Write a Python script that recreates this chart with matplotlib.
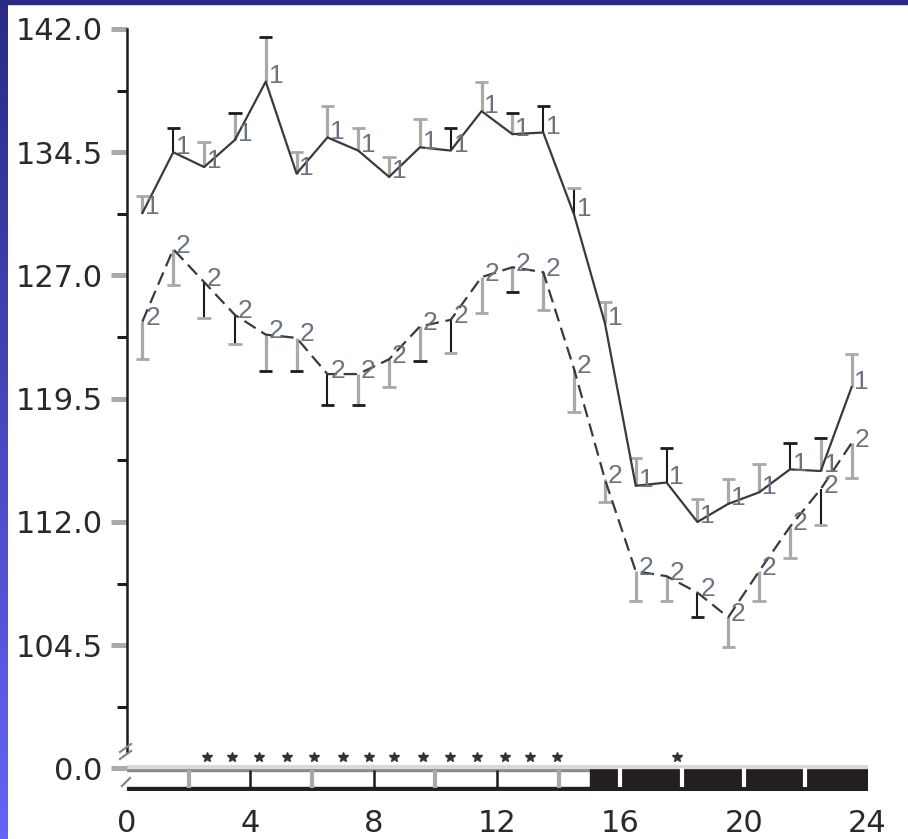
import numpy as np
import matplotlib
matplotlib.use('Agg')
import matplotlib.pyplot as plt
from matplotlib.patches import Rectangle
from matplotlib.lines import Line2D
from matplotlib.colors import LinearSegmentedColormap

# hourly bins (centre of each hour)
hours = np.arange(24) + 0.5

# series 1 (solid line, error bars upward)
s1 = [130.8, 134.5, 133.6, 135.25, 138.8, 133.2, 135.4, 134.6, 133.0, 134.8, 134.6, 137.0,
      135.6, 135.7, 130.7, 124.1, 114.2, 114.4, 112.0, 113.1, 113.8, 115.2, 115.1, 120.2]
err1 = [1.05, 1.5, 1.5, 1.65, 2.7, 1.3, 1.9, 1.4, 1.2, 1.7, 1.4, 1.8,
        1.3, 1.6, 1.6, 1.3, 1.7, 2.1, 1.4, 1.5, 1.7, 1.6, 2.0, 2.0]

# series 2 (dashed line, error bars downward)
s2 = [124.2, 128.6, 126.6, 124.6, 123.4, 123.2, 121.0, 121.0, 121.9, 123.9, 124.3, 126.9,
      127.5, 127.2, 121.3, 114.6, 109.0, 108.7, 107.7, 106.2, 109.0, 111.7, 114.0, 116.8]
err2 = [2.3, 2.2, 2.2, 1.8, 2.2, 2.0, 1.9, 1.9, 1.7, 2.1, 2.0, 2.2,
        1.5, 2.3, 2.6, 1.4, 1.8, 1.5, 1.5, 1.8, 1.8, 1.9, 2.2, 2.1]

# error bar shading as printed (g = grey, k = black)
c1_line = 'gkggggggggkggkkggkgggkgg'
c1_cap = 'gkgkkgggggkgkkgggkgggkkg'
c2_line = 'ggkkggkgggkgggggggkgggkg'
c2_cap = 'ggggkkkkgkggkgggggkggggg'

# y ticks
y_major = [104.5, 112.0, 119.5, 127.0, 134.5, 142.0]
y_minor = [100.75, 108.25, 115.75, 123.25, 130.75, 138.25]
x_ticks = [0, 4, 8, 12, 16, 20, 24]

# light / dark bar
light_period = (0, 15)
dark_period = (15, 24)
light_dividers = [2, 4, 6, 8, 10, 12, 14]
dark_dividers = [16, 18, 20, 22]

# significance stars
star_hours = [2.59, 3.41, 4.28, 5.19, 6.07, 7.0, 7.85, 8.66, 9.6, 10.48, 11.36, 12.26, 13.07, 13.95, 17.84]

GREY = '#a9a9a9'
BLACK = '#1c1c1c'
cmap_c = {'g': GREY, 'k': BLACK}
lw_c = {'g': 2.3, 'k': 1.5}

W, H = 908, 839


def fx(px):
    return px / W


def fy(py):
    return 1 - py / H


fig = plt.figure(figsize=(W / 100, H / 100), dpi=100)

# blue frame of the slide
strip = fig.add_axes([0, 0, fx(8), 1])
grad = np.linspace(0, 1, 256).reshape(-1, 1)
strip.imshow(grad, aspect='auto', cmap=LinearSegmentedColormap.from_list('f', ['#2a2a86', '#6464f8']))
strip.axis('off')
fig.add_artist(Rectangle((0, fy(4)), 1, 1 - fy(4), transform=fig.transFigure, color='#2a2a86', zorder=5))

ax = fig.add_axes([fx(127), fy(752), fx(867) - fx(127), fy(29) - fy(752)])
ax.set_xlim(0, 24)
ax.set_ylim(98.0, 142.0)
for s in ['top', 'right', 'bottom']:
    ax.spines[s].set_visible(False)
ax.spines['left'].set_linewidth(1.8)
ax.spines['left'].set_color(BLACK)
ax.set_xticks([])
ax.set_yticks(y_major)
ax.set_yticklabels([f'{v:.1f}' for v in y_major])
ax.set_yticks(y_minor, minor=True)
ax.tick_params(axis='y', which='major', length=11.5, width=3.6, color='#aaaaaa',
               labelsize=22, pad=6, labelcolor='#2a2a2a')
ax.tick_params(axis='y', which='minor', length=7.5, width=2.2, color=BLACK)

# lines
ax.plot(hours, s1, color='#3a3a3a', lw=1.6, zorder=3)
ax.plot(hours, s2, color='#3a3a3a', lw=1.6, dashes=(6, 3), zorder=3)

# error bars
top1 = np.array(s1) + np.array(err1)
bot2 = np.array(s2) - np.array(err2)
ax.vlines(hours, s1, top1, colors=[cmap_c[c] for c in c1_line], linewidths=[lw_c[c] for c in c1_line], zorder=2)
ax.scatter(hours, top1, marker='_', s=90, c=[cmap_c[c] for c in c1_cap], linewidths=2.0, zorder=2)
ax.vlines(hours, bot2, s2, colors=[cmap_c[c] for c in c2_line], linewidths=[lw_c[c] for c in c2_line], zorder=2)
ax.scatter(hours, bot2, marker='_', s=90, c=[cmap_c[c] for c in c2_cap], linewidths=2.0, zorder=2)

# point labels
for x, y in zip(hours, s1):
    ax.annotate('1', (x, y), xytext=(2, 4), textcoords='offset points', fontsize=19,
                family='Liberation Sans', color='#6a7480', ha='left', va='center', zorder=4)
for x, y in zip(hours, s2):
    ax.annotate('2', (x, y), xytext=(2, 2.5), textcoords='offset points', fontsize=19,
                family='Liberation Sans', color='#6a7480', ha='left', va='center', zorder=4)

# light/dark bar
axb = fig.add_axes([fx(127), fy(790), fx(867) - fx(127), fy(765) - fy(790)])
axb.set_xlim(0, 24)
axb.set_ylim(0, 1)
for s in axb.spines.values():
    s.set_visible(False)
axb.broken_barh([(light_period[0], light_period[1] - light_period[0])], (0.76, 0.12), color='#8a8a8a')
axb.broken_barh([(dark_period[0], dark_period[1] - dark_period[0])], (0, 0.88), color='#231f20')
axb.broken_barh([(0, 24)], (0.88, 0.12), color='#d9d9d9')
axb.broken_barh([(0, 24)], (0, 0.12), color='#231f20')
axb.vlines(light_dividers, 0.1, 0.8, colors=[GREY if i % 2 == 0 else BLACK for i in range(len(light_dividers))],
           linewidths=[3.0 if i % 2 == 0 else 1.8 for i in range(len(light_dividers))])
axb.vlines(dark_dividers, 0.12, 0.88, colors='white', linewidths=3.0)
axb.plot(star_hours, np.full(len(star_hours), 1.32), ls='none', marker='*', ms=7,
         color='#333333', clip_on=False)
axb.set_xticks(x_ticks)
axb.set_xticklabels([str(t) for t in x_ticks])
axb.set_yticks([0.88])
axb.set_yticklabels(['0.0'])
axb.tick_params(axis='x', length=0, pad=14, labelsize=22, labelcolor='#2a2a2a')
axb.tick_params(axis='y', length=11.5, width=3.6, color='#aaaaaa', labelsize=22, pad=6,
                labelcolor='#2a2a2a')

# axis break marks
for (x0, y0, x1, y1) in [(120, 752, 131, 744), (120, 759, 131, 751), (122, 786, 130, 778)]:
    fig.add_artist(Line2D([fx(x0), fx(x1)], [fy(y0), fy(y1)], transform=fig.transFigure,
                          color='#888888', lw=1.6))

fig.savefig('out.png', dpi=100)
